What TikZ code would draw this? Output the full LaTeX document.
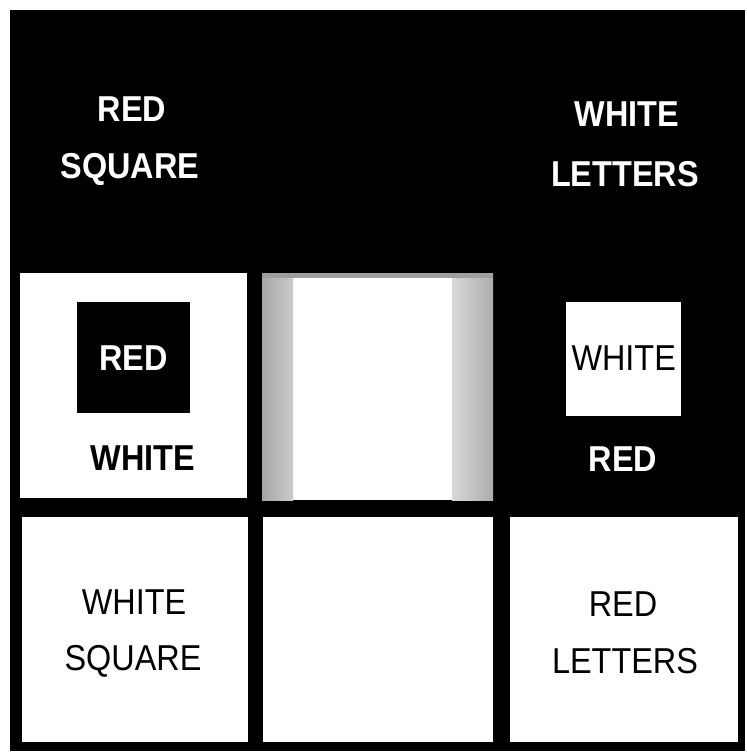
\documentclass[tikz,border=0pt]{standalone}
\usepackage{fontspec}
\setmainfont{Liberation Sans}[FakeStretch=0.9]
\begin{document}
\begin{tikzpicture}[x=1pt,y=-1pt,
  panel/.style={draw=none,fill=white,minimum width=#1,inner sep=0pt,anchor=north west},
  wlab/.style={text=white,font=\fontsize{36}{40}\selectfont\bfseries,inner sep=0pt,anchor=base},
  blab/.style={text=black,font=\fontsize{36}{40}\selectfont,inner sep=0pt,anchor=base},
  bblab/.style={text=black,font=\fontsize{36}{40}\selectfont\bfseries,inner sep=0pt,anchor=base}]
\useasboundingbox (0,0) rectangle (747,753);
% outer black field
\fill[black] (10,10) rectangle (745,751);
% top row
\node[panel=227pt,minimum height=225pt] (tl) at (20,273) {};
\node[fill=black,minimum width=113pt,minimum height=111pt,inner sep=0pt,anchor=north west] (redsq) at (77,302) {};
\node[panel=231pt,minimum height=227pt] (tm) at (262,273) {};
\shade[left color=gray!70,right color=gray!40] (262,273) rectangle (293,500);
\shade[left color=gray!30,right color=gray!65] (452,273) rectangle (493,500);
\fill[gray!75] (262,273) rectangle (493,278);
\node[panel=115pt,minimum height=114pt] (whsq) at (566,302) {};
% bottom row
\node[panel=226pt,minimum height=225pt] (bl) at (22,517) {};
\node[panel=230pt,minimum height=225pt] (bm) at (263,517) {};
\node[panel=228pt,minimum height=225pt] (br) at (510,517) {};
% labels
\node[wlab] (t1) at (132,121) {RED};
\node[wlab] (t2) at (130,178) {SQUARE};
\node[wlab] (t3) at (627,126) {WHITE};
\node[wlab] (t4) at (625,186) {LETTERS};
\node[wlab] (m1) at (redsq.center |- 0,370) {RED};
\node[bblab] (m2) at (143,470) {WHITE};
\node[blab] (m3) at (whsq.center |- 0,370) {WHITE};
\node[wlab] (m4) at (623,471) {RED};
\node[blab] (b1) at (134,614) {WHITE};
\node[blab] (b2) at (133,670) {SQUARE};
\node[blab] (b3) at (623,616) {RED};
\node[blab] (b4) at (625,673) {LETTERS};
\end{tikzpicture}
\end{document}
